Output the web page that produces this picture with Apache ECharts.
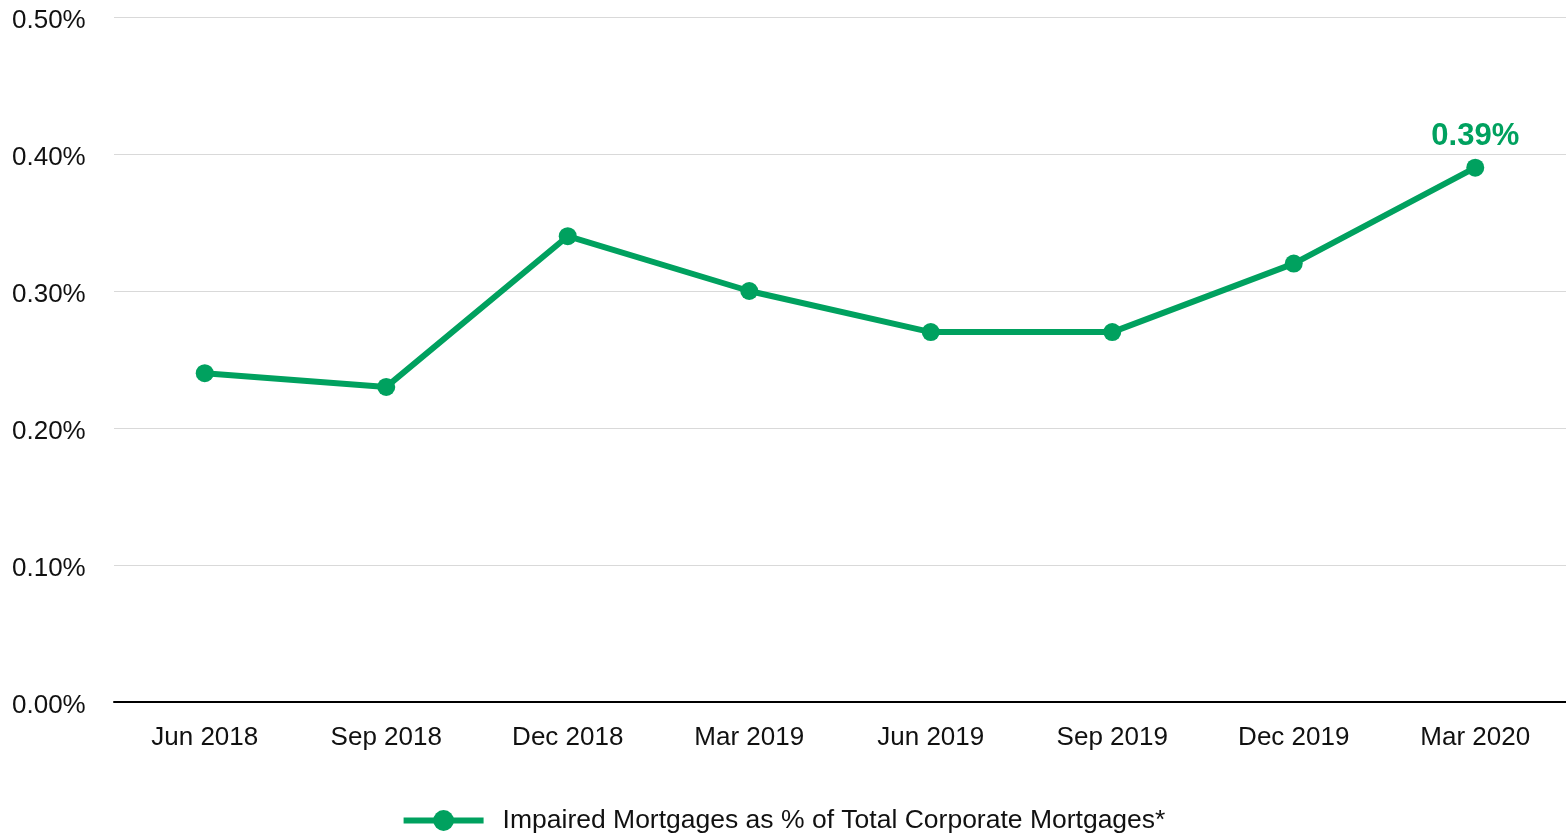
<!DOCTYPE html>
<html>
<head>
<meta charset="utf-8">
<script src="https://cdn.jsdelivr.net/npm/echarts@6/dist/echarts.min.js"></script>
<style>
  html, body { margin: 0; padding: 0; background: #fff; }
  #chart { width: 1566px; height: 836px; }
</style>
</head>
<body>
<div id="chart"></div>
<script>
const categories = ['Jun 2018', 'Sep 2018', 'Dec 2018', 'Mar 2019', 'Jun 2019', 'Sep 2019', 'Dec 2019', 'Mar 2020'];
const impairedPct = [0.24, 0.23, 0.34, 0.30, 0.27, 0.27, 0.32, 0.39];
const seriesName = 'Impaired Mortgages as % of Total Corporate Mortgages*';
const green = '#00A15F';

const chart = echarts.init(document.getElementById('chart'));
const option = {
  textStyle: { fontFamily: '"Liberation Sans", Arial, sans-serif' },
  animation: false,
  grid: { left: 114, right: 0, top: 17, bottom: 134 },
  legend: {
    top: 802,
    left: 'center',
    itemWidth: 80,
    itemHeight: 26,
    data: [seriesName],
    lineStyle: { width: 6 },
    textStyle: { fontSize: 26.5, color: '#111', padding: [0, 0, 0, 14] }
  },
  xAxis: {
    type: 'category',
    data: categories,
    axisLine: { lineStyle: { color: '#000', width: 2 } },
    axisTick: { show: false },
    axisLabel: { fontSize: 26, color: '#111', margin: 23 }
  },
  yAxis: {
    type: 'value',
    min: 0,
    max: 0.5,
    interval: 0.1,
    axisLine: { show: false },
    axisTick: { show: false },
    splitLine: { lineStyle: { color: '#d9d9d9', width: 1 } },
    axisLabel: {
      fontSize: 26,
      color: '#111',
      align: 'left',
      verticalAlign: 'top',
      lineHeight: 8,
      margin: 102,
      formatter: v => v.toFixed(2) + '%'
    }
  },
  series: [{
    name: seriesName,
    type: 'line',
    data: impairedPct,
    symbol: 'circle',
    symbolSize: 18,
    itemStyle: { color: green },
    lineStyle: { color: green, width: 6 },
    label: {
      show: true,
      position: 'top',
      distance: 7,
      fontSize: 31,
      fontWeight: 'bold',
      color: green,
      formatter: p => p.dataIndex === impairedPct.length - 1 ? p.value.toFixed(2) + '%' : ''
    }
  }]
};
chart.setOption(option);
window.addEventListener('resize', function () {
  chart.resize();
});
</script>
</body>
</html>
